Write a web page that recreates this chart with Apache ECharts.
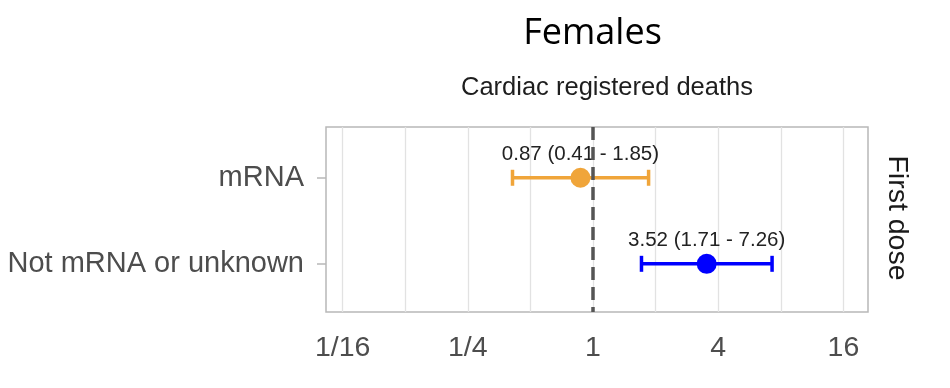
<!DOCTYPE html>
<html>
<head>
<meta charset="utf-8">
<script src="https://cdn.jsdelivr.net/npm/echarts@6/dist/echarts.min.js"></script>
<style>
html,body{margin:0;padding:0;background:#fff;}
#chart{width:950px;height:388px;}
</style>
</head>
<body>
<div id="chart"></div>
<script>
// ---- data ----
const categories = ['mRNA', 'Not mRNA or unknown'];
const estimates = [0.87, 3.52];
const lowerCI = [0.41, 1.71];
const upperCI = [1.85, 7.26];
const xTickValues = [1/16, 1/4, 1, 4, 16];
const xTickLabels = ['1/16', '1/4', '1', '4', '16'];
const xGridValues = [1/16, 1/8, 1/4, 1/2, 1, 2, 4, 8, 16];
const referenceValue = 1;
const titleText = 'Females';
const subtitleText = 'Cardiac registered deaths';
const stripText = 'First dose';

// ---- styles ----
const pointColors = ['#F0A53A', '#0000FF'];
const FONT = '"Liberation Sans", Arial, sans-serif';

const chart = echarts.init(document.getElementById('chart'));

function labelFor(v) {
  let best = 0, bd = Infinity;
  xTickValues.forEach((t, i) => {
    const d = Math.abs(Math.log2(v) - Math.log2(t));
    if (d < bd) { bd = d; best = i; }
  });
  return bd < 0.01 ? xTickLabels[best] : '';
}

const option = {
  animation: false,
  backgroundColor: '#fff',
  grid: { left: 326, top: 127, width: 542, height: 185, show: true,
          borderColor: '#b8b8b8', borderWidth: 1.5, backgroundColor: 'transparent' },
  xAxis: {
    type: 'log', logBase: 2, min: 0.052, max: 21,
    axisLine: { show: false },
    axisTick: { show: false, customValues: xGridValues },
    splitLine: { show: true, lineStyle: { color: '#e2e2e2', width: 1.3 } },
    axisLabel: {
      customValues: xTickValues,
      formatter: v => labelFor(v),
      fontFamily: FONT, fontSize: 28.5, color: '#4d4d4d', margin: 22
    }
  },
  yAxis: {
    type: 'value', inverse: true, min: 0.41, max: 2.56,
    axisLine: { show: false },
    splitLine: { show: false },
    axisTick: { show: true, length: 9, customValues: categories.map((c, i) => i + 1),
                lineStyle: { color: '#b8b8b8', width: 1.5 } },
    axisLabel: {
      customValues: categories.map((c, i) => i + 1),
      formatter: v => categories[Math.round(v) - 1] || '',
      fontFamily: FONT, fontSize: 29, color: '#4d4d4d', margin: 22
    }
  },
  graphic: [
    { type: 'text', x: 592.5, y: 34,
      style: { text: titleText, fontFamily: '"Open Sans", sans-serif', fontSize: 36,
               fill: '#000', align: 'center', verticalAlign: 'middle' } },
    { type: 'text', x: 607, y: 88,
      style: { text: subtitleText, fontFamily: FONT, fontSize: 25.5,
               fill: '#1e1e1e', align: 'center', verticalAlign: 'middle' } },
    { type: 'text', x: 897, y: 218, rotation: -Math.PI / 2,
      style: { text: stripText, fontFamily: FONT, fontSize: 28.5,
               fill: '#1a1a1a', align: 'center', verticalAlign: 'middle' } }
  ],
  series: [
    {
      type: 'custom', z: 2,
      encode: { x: [0, 1], y: 2 },
      data: categories.map((c, i) => [lowerCI[i], upperCI[i], i + 1]),
      renderItem: function (params, api) {
        const lo = api.coord([api.value(0), api.value(2)]);
        const hi = api.coord([api.value(1), api.value(2)]);
        const col = pointColors[params.dataIndex];
        const st = { stroke: col, lineWidth: 3.5 };
        const h = 8;
        return {
          type: 'group',
          children: [
            { type: 'line', shape: { x1: lo[0], y1: lo[1], x2: hi[0], y2: hi[1] }, style: st },
            { type: 'line', shape: { x1: lo[0], y1: lo[1] - h, x2: lo[0], y2: lo[1] + h }, style: st },
            { type: 'line', shape: { x1: hi[0], y1: hi[1] - h, x2: hi[0], y2: hi[1] + h }, style: st }
          ]
        };
      }
    },
    {
      type: 'scatter', z: 3,
      symbol: 'circle', symbolSize: 20,
      data: categories.map((c, i) => ({
        value: [estimates[i], i + 1],
        itemStyle: { color: pointColors[i], opacity: 1 },
        label: {
          show: true, position: 'top', distance: 2.5,
          formatter: estimates[i].toFixed(2) + ' (' + lowerCI[i].toFixed(2) + ' - ' + upperCI[i].toFixed(2) + ')',
          fontFamily: FONT, fontSize: 20.5, color: '#222'
        }
      })),
      markLine: {
        silent: true, symbol: ['none', 'none'], z: 4,
        label: { show: false },
        lineStyle: { type: [13, 7], width: 3.5, color: '#555555' },
        data: [{ xAxis: referenceValue }]
      }
    }
  ]
};
chart.setOption(option);
</script>
</body>
</html>
